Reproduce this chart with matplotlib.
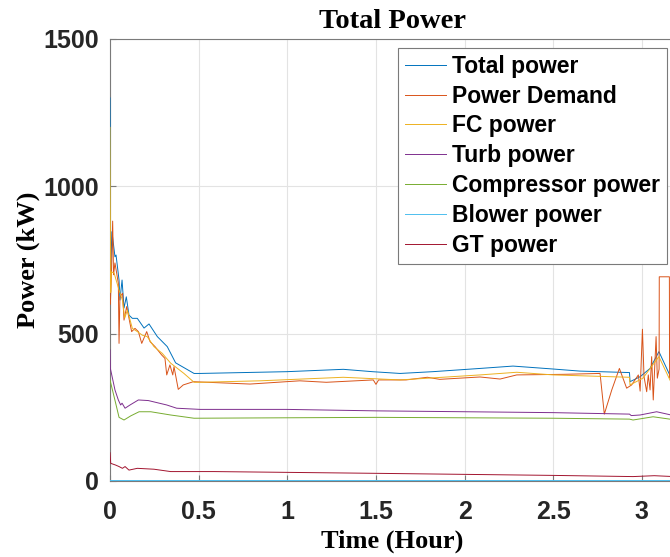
import matplotlib
matplotlib.use("Agg")
import matplotlib.pyplot as plt

# data (time in hours, power in kW)
total_t = [0, 0.004, 0.011, 0.028, 0.034, 0.051, 0.056, 0.068, 0.079, 0.092, 0.107, 0.126,
           0.154, 0.192, 0.22, 0.267, 0.323, 0.37, 0.474, 0.508, 0.997, 1.316, 1.48, 1.636,
           1.82, 2.087, 2.273, 2.5, 2.65, 2.93, 2.933, 2.99, 3.046, 3.096, 3.18]
total_p = [1300, 720, 846, 761, 767, 682, 614, 682, 587, 625, 563, 552,
           552, 519, 533, 490, 456, 401, 365, 365, 371, 379, 371, 365,
           371, 382, 390, 380, 373, 368, 337, 354, 382, 439, 330]

demand_t = [0.002, 0.008, 0.015, 0.02, 0.028, 0.047, 0.051, 0.056, 0.071, 0.079, 0.094, 0.122,
            0.141, 0.16, 0.179, 0.207, 0.226, 0.254, 0.291, 0.31, 0.32, 0.338, 0.354, 0.361,
            0.385, 0.413, 0.47, 0.79, 1.07, 1.22, 1.485, 1.5, 1.515, 1.67, 1.79, 1.86,
            2.087, 2.2, 2.294, 2.557, 2.764, 2.788, 2.83, 2.873, 2.914, 2.942, 2.98, 2.99,
            3.003, 3.012, 3.027, 3.036, 3.046, 3.055, 3.064, 3.08, 3.087, 3.097, 3.098, 3.155,
            3.156, 3.18]
demand_p = [600, 700, 882, 700, 740, 671, 467, 625, 637, 546, 592, 507,
            518, 507, 467, 507, 473, 456, 428, 416, 360, 394, 360, 388,
            311, 326, 337, 329, 340, 335, 343, 328, 343, 343, 352, 345,
            353, 346, 360, 362, 365, 227, 309, 382, 315, 326, 360, 305,
            515, 354, 303, 360, 309, 422, 275, 490, 349, 380, 693, 693,
            350, 345]

fc_t = [0, 0.004, 0.007, 0.023, 0.051, 0.07, 0.083, 0.098, 0.126, 0.154, 0.182, 0.21,
        0.248, 0.295, 0.342, 0.417, 0.474, 0.508, 0.846, 1.316, 1.636, 2.087, 2.294, 2.5,
        2.93, 2.933, 3.006, 3.096, 3.18]
fc_p = [1200, 640, 710, 706, 648, 614, 553, 580, 518, 507, 495, 490,
        456, 433, 400, 365, 335, 335, 340, 352, 343, 360, 369, 360,
        352, 326, 349, 422, 315]

turb_t = [0, 0.002, 0.028, 0.047, 0.06, 0.068, 0.085, 0.113, 0.16, 0.216, 0.32, 0.376,
          0.508, 0.997, 1.504, 2.01, 2.5, 2.93, 2.94, 2.99, 3.083, 3.18]
turb_p = [445, 382, 309, 275, 258, 264, 247, 258, 275, 273, 258, 247,
          243, 243, 238, 235, 232, 227, 222, 224, 235, 222]

comp_t = [0, 0.032, 0.051, 0.079, 0.117, 0.164, 0.23, 0.342, 0.474, 1.504, 2.5, 2.93,
          2.95, 3.063, 3.18]
comp_p = [343, 264, 216, 207, 221, 235, 235, 224, 213, 216, 213, 210,
          207, 218, 208]

blower_t = [0, 3.18]
blower_p = [2, 2]

gt_t = [0, 0.004, 0.032, 0.051, 0.07, 0.085, 0.107, 0.154, 0.248, 0.342, 0.587, 1.504,
        2.5, 2.95, 3.07, 3.18]
gt_p = [96, 60, 54, 49, 43, 49, 37, 43, 40, 32, 32, 26,
        19, 15, 18, 15]

labels = ["Total power", "Power Demand", "FC power", "Turb power",
          "Compressor power", "Blower power", "GT power"]
colors = ["#0072BD", "#D95319", "#EDB120", "#7E2F8E", "#77AC30", "#4DBEEE", "#A2142F"]

series = [(total_t, total_p), (demand_t, demand_p), (fc_t, fc_p), (turb_t, turb_p),
          (comp_t, comp_p), (blower_t, blower_p), (gt_t, gt_p)]

fig = plt.figure(figsize=(6.7, 5.57), dpi=100)
# axes runs a little past the right edge of the image, like the cropped original
ax = fig.add_axes([110 / 670, 76 / 557, 565 / 670, 442 / 557])

for (t, p), lab, c in zip(series, labels, colors):
    ax.plot(t, p, color=c, lw=0.7, label=lab, zorder=3)

ax.set_xlim(0, 565 / 177.3)
ax.set_ylim(0, 1500)
ax.set_xticks([0, 0.5, 1, 1.5, 2, 2.5, 3])
ax.set_xticklabels(["0", "0.5", "1", "1.5", "2", "2.5", "3"])
ax.set_yticks([0, 500, 1000, 1500])

ax.grid(True, color="#e3e3e3", lw=0.8)
ax.set_axisbelow(True)
for s in ax.spines.values():
    s.set_color("#7a7a7a")
    s.set_linewidth(0.8)
ax.tick_params(direction="in", length=4, width=0.8, color="#7a7a7a",
               top=False, right=False)
ax.tick_params(axis="x", pad=14)
ax.tick_params(axis="y", pad=8)
for lbl in ax.get_xticklabels() + ax.get_yticklabels():
    lbl.set_fontfamily("Liberation Sans")
    lbl.set_fontweight("bold")
    lbl.set_fontsize(18)
    lbl.set_color("#262626")

serif = dict(family="Liberation Serif", weight="bold")
ax.set_title("Total Power", fontsize=20.5, pad=8, **serif)
ax.set_xlabel("Time (Hour)", fontsize=19, labelpad=4, **serif)
ax.set_ylabel("Power (kW)", fontsize=19, labelpad=2, **serif)

leg = ax.legend(loc="upper right", bbox_to_anchor=(557 / 565, 0.98), borderaxespad=0,
                prop=dict(family="Liberation Sans", weight="bold", size=16.5),
                handlelength=1.8, handletextpad=0.25, labelspacing=0.3,
                fancybox=False, framealpha=1, borderpad=0.3)
leg.get_frame().set_edgecolor("#7a7a7a")
leg.get_frame().set_linewidth(0.8)

fig.savefig("out.png", dpi=100)
